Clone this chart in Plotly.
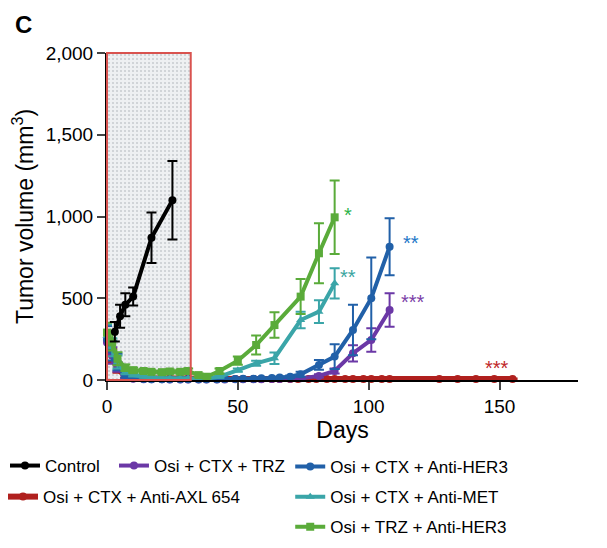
import plotly.graph_objects as go

# ---------------- data ----------------
early_days = [0, 2, 4, 7, 10, 14, 17, 21, 24, 28, 31]

control_days = [3, 5, 7, 10, 17, 25]
control_vals = [295, 390, 460, 510, 870, 1100]
control_err = [60, 70, 70, 55, 155, 240]

trz_days = early_days + [35, 38, 42, 45, 49, 52, 56, 59, 63, 66, 70, 74, 81, 87, 94, 101, 108]
trz_vals = [230, 150, 80, 20, 8, 5, 4, 4, 3, 3, 3, 3, 3, 3, 3, 4, 4, 5, 5, 6, 6, 7, 10, 25, 55, 163, 245, 428]
trz_err = [70, 50, 30, 10, 5, 3, 3, 3, 3, 3, 3, 3, 3, 3, 3, 3, 3, 3, 3, 3, 3, 3, 5, 10, 15, 50, 72, 102]

her3_days = early_days + [35, 38, 42, 45, 49, 52, 56, 59, 63, 66, 70, 74, 81, 87, 94, 101, 108]
her3_vals = [250, 180, 110, 30, 10, 6, 5, 5, 5, 5, 5, 5, 5, 5, 6, 6, 7, 8, 10, 12, 15, 20, 35, 92, 143, 306, 500, 815]
her3_err = [80, 60, 50, 15, 5, 3, 3, 3, 3, 3, 3, 3, 3, 3, 3, 3, 3, 3, 4, 4, 5, 8, 15, 30, 75, 155, 250, 175]

axl_days = early_days + [35, 38, 42, 45, 49, 52, 56, 59, 63, 66, 70, 73, 77, 80, 84, 87, 91, 94, 98, 101, 105, 108, 127, 134, 141, 148, 155]
axl_vals = [240, 150, 70, 25, 12, 10, 9, 9, 8, 8, 8, 7, 6, 6, 6, 6, 6, 6, 6, 6, 6, 6, 6, 6, 6, 6, 6, 6, 6, 6, 6, 6, 6, 6, 6, 6, 6, 6]
axl_err = [60, 40, 25, 10, 5] + [3] * 33

met_days = early_days + [35, 38, 43, 50, 57, 64, 74, 81, 87]
met_vals = [270, 200, 110, 50, 30, 20, 15, 12, 10, 10, 10, 8, 10, 20, 60, 102, 133, 367, 418, 591]
met_err = [70, 55, 40, 15, 8, 5, 5, 4, 4, 4, 4, 4, 4, 6, 10, 15, 35, 50, 70, 93]

trzher3_days = early_days + [35, 38, 43, 50, 57, 64, 74, 81, 87]
trzher3_vals = [290, 230, 130, 75, 60, 55, 50, 48, 52, 50, 55, 30, 20, 55, 118, 214, 336, 510, 775, 995]
trzher3_err = [60, 50, 40, 20, 15, 12, 10, 10, 12, 12, 15, 10, 10, 15, 25, 58, 78, 107, 183, 225]

shade_days = [0, 32]
x_range = [0, 180]
y_range = [0, 2000]

# ---------------- figure ----------------
fig = go.Figure()

# shaded treatment window (dotted fill)
fig.add_trace(go.Bar(
    x=[(shade_days[0] + shade_days[1]) / 2], y=[y_range[1]], width=[shade_days[1] - shade_days[0]],
    marker=dict(color="#e6e8ea", line=dict(width=0),
                pattern=dict(shape=".", fgcolor="#a4aab0", bgcolor="#eef0f2", size=4, solidity=0.22)),
    showlegend=False, hoverinfo="skip"))

# red outline of the window (paper coords so it is not clipped at the plot edge)
def xp(v):
    return (v - x_range[0]) / (x_range[1] - x_range[0])

fig.add_shape(type="rect", xref="paper", yref="paper", x0=xp(shade_days[0]), x1=xp(shade_days[1]),
              y0=0, y1=1, line=dict(color="#d9534f", width=2), layer="above")

def add(days, vals, err, name, color, symbol, lw, legend, ms=8):
    fig.add_trace(go.Scatter(
        x=days, y=vals, name=name, mode="lines+markers",
        line=dict(color=color, width=lw),
        marker=dict(color=color, size=ms, symbol=symbol),
        error_y=dict(type="data", array=err, visible=True, color=color, thickness=2, width=5),
        legend=legend, legendgroup=name, cliponaxis=False))

add(axl_days, axl_vals, axl_err, "Osi + CTX + Anti-AXL 654", "#b0201e", "circle", 6, "legend3", 8)
add(trz_days, trz_vals, trz_err, "Osi + CTX + TRZ", "#6b38a6", "circle", 4, "legend2")
add(her3_days, her3_vals, her3_err, "Osi + CTX + Anti-HER3", "#2160a8", "circle", 4, "legend4")
add(met_days, met_vals, met_err, "Osi + CTX + Anti-MET", "#3aa5a8", "triangle-up", 4, "legend4")
add(trzher3_days, trzher3_vals, trzher3_err, "Osi + TRZ + Anti-HER3", "#5aab3a", "square", 4, "legend4")
add(control_days, control_vals, control_err, "Control", "#000000", "circle", 4, "legend")

# significance stars next to last points
stars = [
    (trzher3_days[-1] + 5, trzher3_vals[-1] + 15, "*", "#2db34a"),
    (met_days[-1] + 5, met_vals[-1] + 40, "**", "#3aa5a0"),
    (her3_days[-1] + 8, her3_vals[-1] + 25, "**", "#1e78c8"),
    (trz_days[-1] + 9, trz_vals[-1] + 50, "***", "#7b3fa8"),
    (axl_days[-1] - 6, axl_vals[-1] + 65, "***", "#c0282a"),
]
for x, y, t, c in stars:
    fig.add_annotation(x=x, y=y, text=t, showarrow=False, font=dict(color=c, size=20))

fig.add_annotation(xref="paper", yref="paper", x=-0.20, y=1.136, text="<b>C</b>",
                   showarrow=False, font=dict(size=24, color="black"), xanchor="left",
                   yanchor="top")

leg_common = dict(font=dict(size=17, color="black", family="Liberation Sans, Arial"),
                  bgcolor="rgba(0,0,0,0)", itemwidth=30, tracegroupgap=5,
                  orientation="v", xanchor="left", yanchor="middle")

# page body has an 8px default margin: margins are offset to keep the plot area in place
fig.update_layout(
    width=607, height=548,
    margin=dict(l=99, r=37, t=45, b=176, autoexpand=False),
    paper_bgcolor="white", plot_bgcolor="white",
    font=dict(family="Liberation Sans, Arial", size=19, color="black"),
    bargap=0,
    legend=dict(**leg_common, x=-0.2166, y=-0.263),
    legend2=dict(**leg_common, x=0.0148, y=-0.263),
    legend3=dict(**leg_common, x=-0.2208, y=-0.358),
    legend4=dict(**leg_common, x=0.389, y=-0.358),
    xaxis=dict(range=x_range, tickvals=[0, 50, 100, 150], ticks="outside", ticklen=8,
               tickwidth=2, showline=True, linecolor="black", linewidth=2,
               ticklabelstandoff=0,
               showgrid=False, zeroline=False, title=dict(text="Days", standoff=0),
               tickfont=dict(size=19)),
    yaxis=dict(range=y_range, tickvals=[0, 500, 1000, 1500, 2000], tickformat=",",
               ticks="outside", ticklen=8, tickwidth=2, showline=True, linecolor="black",
               linewidth=2, showgrid=False, zeroline=False,
               title=dict(text="Tumor volume (mm<sup>3</sup>)", standoff=9),
               tickfont=dict(size=19)),
)

fig.write_html("out.html")
